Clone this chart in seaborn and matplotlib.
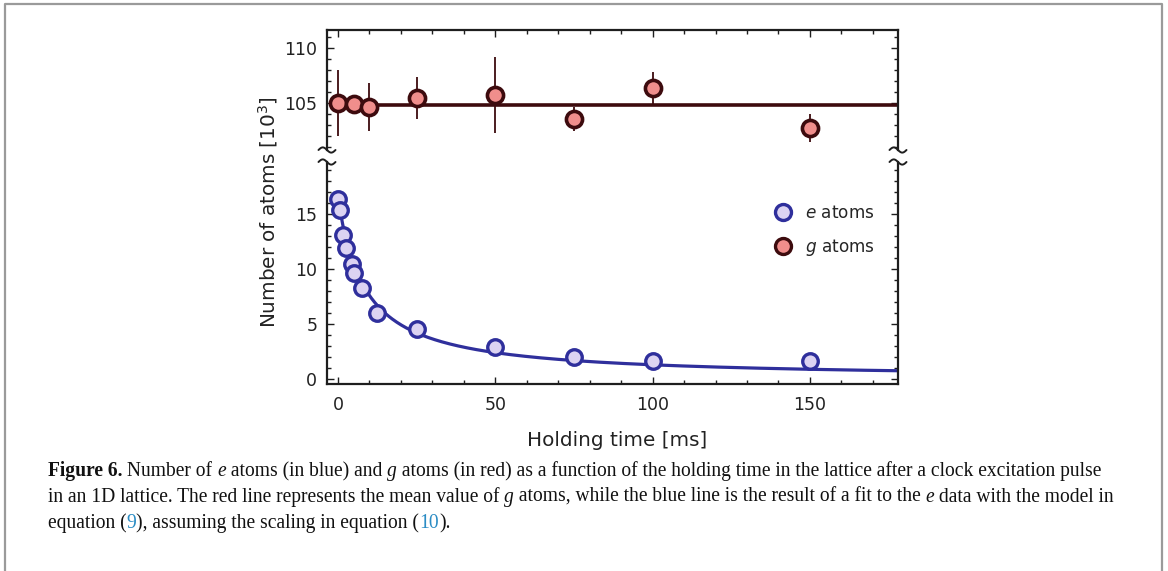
import numpy as np
import pandas as pd
import matplotlib
matplotlib.use("Agg")
import matplotlib.pyplot as plt
import seaborn as sns
from matplotlib.lines import Line2D
from matplotlib.ticker import MultipleLocator

# ---------------- data ----------------
e_time = [0, 0.5, 1.5, 2.5, 4.5, 5, 7.5, 12.5, 25, 50, 75, 100, 150]
e_atoms = [16.3, 15.3, 13.1, 11.9, 10.4, 9.6, 8.3, 6.0, 4.5, 2.9, 2.0, 1.65, 1.65]

g_time = [0, 5, 10, 25, 50, 75, 100, 150]
g_atoms = [105.0, 104.9, 104.6, 105.4, 105.7, 103.5, 106.3, 102.7]
g_err = [3.0, 0.7, 2.2, 1.9, 3.45, 1.1, 1.5, 1.25]

# fit parameters of the blue model curve
fit_N0 = 16.5
fit_tau = 8.5

x_ticks = [0, 50, 100, 150]
top_yticks = [105, 110]
bottom_yticks = [0, 5, 10, 15]

legend_labels = ["$e$ atoms", "$g$ atoms"]
xlabel = "Holding time [ms]"
ylabel = "Number of atoms [10$^3$]"

caption_lines = [
    [("Figure 6.", "bold", "normal", "#111111"),
     (" Number of ", "normal", "normal", "#111111"),
     ("e", "normal", "italic", "#111111"),
     (" atoms (in blue) and ", "normal", "normal", "#111111"),
     ("g", "normal", "italic", "#111111"),
     (" atoms (in red) as a function of the holding time in the lattice after a clock excitation pulse", "normal", "normal", "#111111")],
    [("in an 1D lattice. The red line represents the mean value of ", "normal", "normal", "#111111"),
     ("g", "normal", "italic", "#111111"),
     (" atoms, while the blue line is the result of a fit to the ", "normal", "normal", "#111111"),
     ("e", "normal", "italic", "#111111"),
     (" data with the model in", "normal", "normal", "#111111")],
    [("equation (", "normal", "normal", "#111111"),
     ("9", "normal", "normal", "#2b8cc4"),
     ("), assuming the scaling in equation (", "normal", "normal", "#111111"),
     ("10", "normal", "normal", "#2b8cc4"),
     (").", "normal", "normal", "#111111")],
]

# ---------------- style ----------------
BLUE_EDGE = "#2f2f9c"
BLUE_FACE = "#dcd3f2"
RED_EDGE = "#3d0b0e"
RED_FACE = "#f08e8c"
SPINE = "#1e1e1e"

sns.set_theme(style="ticks")
plt.rcParams["font.family"] = ["DejaVu Sans"]

W, H = 1168, 571
fig = plt.figure(figsize=(W / 100, H / 100), dpi=100)
fig.patch.set_facecolor("white")

def fx(px):
    return px / W

def fy(py):
    return 1 - py / H

L, R = 327, 898
ax_top = fig.add_axes([fx(L), fy(150), fx(R) - fx(L), fy(30) - fy(150)])
ax_bot = fig.add_axes([fx(L), fy(384), fx(R) - fx(L), fy(162) - fy(384)])

xlim = (-3.5, 178)

# top panel: g atoms
g_df = pd.DataFrame({"t": g_time, "n": g_atoms, "err": g_err})
g_mean = float(np.mean(g_atoms))
mean_df = pd.DataFrame({"t": [0, xlim[1] + 5], "n": [g_mean, g_mean]})
sns.lineplot(data=mean_df, x="t", y="n", ax=ax_top, color=RED_EDGE, lw=2.6, zorder=2)
ax_top.errorbar(g_df["t"], g_df["n"], yerr=g_df["err"], fmt="none",
                ecolor=RED_EDGE, elinewidth=1.3, capsize=0, zorder=3)
sns.scatterplot(data=g_df, x="t", y="n", ax=ax_top, marker="o", s=135,
                color=RED_FACE, edgecolor=RED_EDGE, linewidth=2.6, zorder=4)

# bottom panel: e atoms
t_fit = np.linspace(0, xlim[1] + 5, 500)
fit_df = pd.DataFrame({"t": t_fit, "n": fit_N0 / (1 + t_fit / fit_tau)})
sns.lineplot(data=fit_df, x="t", y="n", ax=ax_bot, color=BLUE_EDGE, lw=2.3, zorder=2)
e_df = pd.DataFrame({"t": e_time, "n": e_atoms})
sns.scatterplot(data=e_df, x="t", y="n", ax=ax_bot, marker="o", s=125,
                color=BLUE_FACE, edgecolor=BLUE_EDGE, linewidth=2.4, zorder=4)

for ax in (ax_top, ax_bot):
    ax.set_xlim(*xlim)
    ax.set_xlabel("")
    ax.set_ylabel("")
    ax.set_facecolor("white")
    ax.xaxis.set_major_locator(plt.FixedLocator(x_ticks))
    ax.xaxis.set_minor_locator(MultipleLocator(10))
    ax.yaxis.set_minor_locator(MultipleLocator(1))
    ax.tick_params(which="both", direction="in", colors=SPINE, width=1.0,
                   left=True, right=True)
    ax.tick_params(which="major", length=5, labelsize=12.5, labelcolor="#222222", pad=7)
    ax.tick_params(which="minor", length=3)
    for s in ax.spines.values():
        s.set_color(SPINE)
        s.set_linewidth(1.6)

ax_top.set_ylim(100.7, 111.6)
ax_top.set_yticks(top_yticks)
ax_top.spines["bottom"].set_visible(False)
ax_top.tick_params(which="both", bottom=False, labelbottom=False, top=True)

ax_bot.set_ylim(-0.45, 19.7)
ax_bot.set_yticks(bottom_yticks)
ax_bot.spines["top"].set_visible(False)
ax_bot.tick_params(which="both", top=False, bottom=True, labelbottom=True)
ax_bot.tick_params(axis="x", which="major", pad=9)

# break marks
u = np.linspace(-1, 1, 40)
for xp in (L, R):
    for yp in (150, 162):
        xs = [fx(xp + 8.5 * v) for v in u]
        ys = [fy(yp) + (2.6 * np.sin(-np.pi * v)) / H for v in u]
        fig.add_artist(Line2D(xs, ys, transform=fig.transFigure, color=SPINE, lw=1.4))

# legend
handles = [
    Line2D([], [], ls="none", marker="o", markersize=11.5, markerfacecolor=BLUE_FACE,
           markeredgecolor=BLUE_EDGE, markeredgewidth=2.4),
    Line2D([], [], ls="none", marker="o", markersize=11.5, markerfacecolor=RED_FACE,
           markeredgecolor=RED_EDGE, markeredgewidth=2.4),
]
fig.legend(handles, legend_labels, loc="upper left", bbox_to_anchor=(fx(775), fy(204)),
           frameon=False, fontsize=12.2, handlelength=1.0, handletextpad=0.75,
           labelspacing=0.9, borderpad=0, borderaxespad=0)

# axis labels
fig.text(fx(617), fy(440), xlabel, ha="center", va="center", fontsize=14.4, color="#222222")
fig.text(fx(268), fy(212), ylabel, ha="center", va="center", rotation=90,
         fontsize=14.4, color="#222222")

# figure frame (left, top, right)
fig.add_artist(Line2D([fx(5), fx(5), fx(1162), fx(1162)], [0, fy(3.5), fy(3.5), 0],
                      transform=fig.transFigure, color="#9a9a9a", lw=1.6))

# caption
fig.canvas.draw()
renderer = fig.canvas.get_renderer()
base_y = [476, 502, 528]
for line, by in zip(caption_lines, base_y):
    x = 48
    for s, weight, style, col in line:
        t = fig.text(fx(x), fy(by), s, ha="left", va="baseline", fontsize=14.05,
                     family=["Liberation Serif", "DejaVu Serif"], weight=weight,
                     style=style, color=col)
        bb = t.get_window_extent(renderer)
        x += bb.width

fig.savefig("out.png", dpi=100, facecolor="white")
